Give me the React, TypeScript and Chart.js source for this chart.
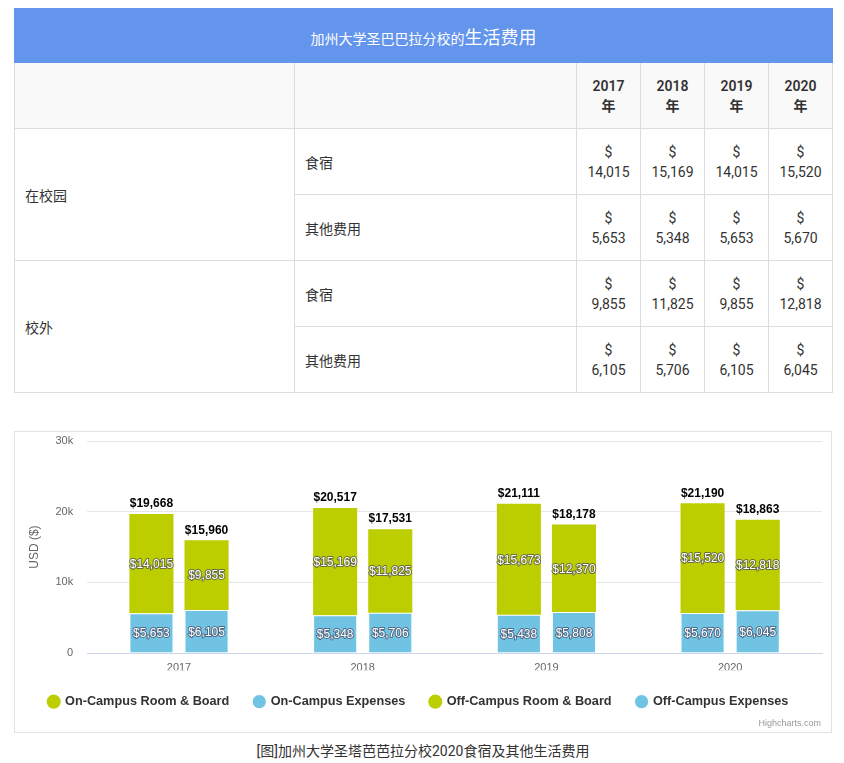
import React, { useEffect, useRef } from "react";
import { Chart, registerables } from "chart.js";

Chart.register(...registerables);

const years = ["2017", "2018", "2019", "2020"];
const tableYears = ["2017年", "2018年", "2019年", "2020年"];
const onCampusRoom = [14015, 15169, 15673, 15520];
const onCampusExp = [5653, 5348, 5438, 5670];
const offCampusRoom = [9855, 11825, 12370, 12818];
const offCampusExp = [6105, 5706, 5808, 6045];

const tableOnRoom = [14015, 15169, 14015, 15520];
const tableOnExp = [5653, 5348, 5653, 5670];
const tableOffRoom = [9855, 11825, 9855, 12818];
const tableOffExp = [6105, 5706, 6105, 6045];

const yTicks = [0, 10000, 20000, 30000];
const seriesNames = ["On-Campus Room & Board", "On-Campus Expenses", "Off-Campus Room & Board", "Off-Campus Expenses"];

const GREEN = "#bdce00";
const BLUE = "#70c3e3";

const fmt = (v: number) => "$" + v.toLocaleString("en-US");

const labelPlugin = {
  id: "stackLabels",
  afterDatasetsDraw(chart: any) {
    const ctx = chart.ctx;
    ctx.save();
    ctx.textAlign = "center";
    ctx.textBaseline = "middle";
    chart.data.datasets.forEach((ds: any, di: number) => {
      const meta = chart.getDatasetMeta(di);
      if (meta.hidden) return;
      meta.data.forEach((el: any, i: number) => {
        const v = ds.data[i];
        const y = (el.y + el.base) / 2;
        ctx.font = "12px 'Liberation Sans', Arial, sans-serif";
        ctx.lineJoin = "round";
        ctx.lineWidth = 2;
        ctx.strokeStyle = "rgba(70,70,95,0.7)";
        ctx.strokeText(fmt(v), el.x, y + 1);
        ctx.fillStyle = "#ffffff";
        ctx.fillText(fmt(v), el.x, y + 1);
        if (ds.isTop) {
          const total = ds.data[i] + chart.data.datasets[ds.below].data[i];
          ctx.font = "bold 12px 'Liberation Sans', Arial, sans-serif";
          ctx.fillStyle = "#000";
          ctx.textBaseline = "bottom";
          ctx.fillText(fmt(total), el.x, el.y - 4);
          ctx.textBaseline = "middle";
        }
      });
    });
    ctx.restore();
  },
};

function CostChart() {
  const ref = useRef<HTMLCanvasElement | null>(null);
  useEffect(() => {
    if (!ref.current) return;
    const legendRank = [1, 0, 3, 2];
    const chart = new Chart(ref.current, {
      type: "bar",
      data: {
        labels: years,
        datasets: [
          { label: seriesNames[1], data: onCampusExp, backgroundColor: BLUE, stack: "on", borderColor: "#fff", borderWidth: 1, borderSkipped: "bottom" } as any,
          { label: seriesNames[0], data: onCampusRoom, backgroundColor: GREEN, stack: "on", borderColor: "#fff", borderWidth: 0, isTop: true, below: 0 } as any,
          { label: seriesNames[3], data: offCampusExp, backgroundColor: BLUE, stack: "off", borderColor: "#fff", borderWidth: 1, borderSkipped: "bottom" } as any,
          { label: seriesNames[2], data: offCampusRoom, backgroundColor: GREEN, stack: "off", borderColor: "#fff", borderWidth: 0, isTop: true, below: 2 } as any,
        ],
      },
      options: {
        responsive: false,
        animation: false,
        layout: { padding: { top: 0, right: 9, left: 0, bottom: 14 } },
        datasets: { bar: { categoryPercentage: 0.6, barPercentage: 0.8 } },
        scales: {
          x: {
            stacked: true,
            grid: { display: false, drawTicks: false },
            border: { display: true, color: "#ccd6eb" },
            ticks: { color: "#666", font: { size: 11, family: "'Liberation Sans', Arial, sans-serif" }, padding: 8 },
            afterFit: (scale: any) => {
              scale.height -= 12;
            },
          },
          y: {
            stacked: true,
            min: 0,
            max: 30000,
            afterBuildTicks: (axis: any) => {
              axis.ticks = yTicks.map((v) => ({ value: v }));
            },
            afterFit: (scale: any) => {
              scale.paddingTop = 9;
              scale.paddingBottom = 7;
            },
            grid: { color: "#e6e6e6", drawTicks: false },
            border: { display: false },
            ticks: {
              color: "#666",
              font: { size: 11, family: "'Liberation Sans', Arial, sans-serif" },
              padding: 14,
              callback: (v: any) => (v === 0 ? "0" : v / 1000 + "k"),
            },
            title: { display: true, text: "USD ($)", color: "#666", font: { size: 12, family: "'Liberation Sans', Arial, sans-serif" }, padding: { top: 12, bottom: 0 } },
          },
        },
        plugins: {
          tooltip: { enabled: false },
          legend: {
            position: "bottom",
            labels: {
              usePointStyle: true,
              pointStyle: "circle",
              boxWidth: 10,
              boxHeight: 10,
              padding: 25,
              color: "#333",
              font: { size: 12.7, weight: "bold", family: "'Liberation Sans', Arial, sans-serif" },
              sort: (a: any, b: any) => legendRank[a.datasetIndex] - legendRank[b.datasetIndex],
            },
          },
        },
      } as any,
      plugins: [labelPlugin],
    });
    return () => chart.destroy();
  }, []);
  return <canvas ref={ref} width={816} height={300} style={{ display: "block" }} />;
}

const cellBorder = "1px solid #dddddd";
const tdBase: React.CSSProperties = { border: cellBorder, padding: "0 10px", fontSize: 14, color: "#333", verticalAlign: "middle" };
const numCell: React.CSSProperties = { ...tdBase, textAlign: "center", padding: 0, lineHeight: "20px" };

function NumCells({ values }: { values: number[] }) {
  return (
    <>
      {values.map((v, i) => (
        <td key={i} style={numCell}>
          $<br />
          {v.toLocaleString("en-US")}
        </td>
      ))}
    </>
  );
}

export default function App() {
  return (
    <div style={{ marginLeft: 6, width: 818, fontFamily: "Roboto, 'Noto Sans CJK SC', sans-serif" }}>
      <table style={{ borderCollapse: "collapse", width: 818, tableLayout: "fixed" }}>
        <colgroup>
          <col style={{ width: 280 }} />
          <col style={{ width: 282 }} />
          <col style={{ width: 64 }} />
          <col style={{ width: 64 }} />
          <col style={{ width: 64 }} />
          <col style={{ width: 64 }} />
        </colgroup>
        <tbody>
          <tr style={{ height: 54 }}>
            <td colSpan={6} style={{ background: "#6495ed", color: "#fff", textAlign: "center", border: "1px solid #6495ed", fontSize: 14 }}>
              加州大学圣巴巴拉分校的<span style={{ fontSize: 18 }}>生活费用</span>
            </td>
          </tr>
          <tr style={{ height: 66, background: "#f9f9f9" }}>
            <td style={tdBase}></td>
            <td style={tdBase}></td>
            {tableYears.map((y) => (
              <td key={y} style={{ ...numCell, fontWeight: 600 }}>
                {y.slice(0, 4)}
                <br />
                {y.slice(4)}
              </td>
            ))}
          </tr>
          <tr style={{ height: 66 }}>
            <td rowSpan={2} style={tdBase}>在校园</td>
            <td style={tdBase}>食宿</td>
            <NumCells values={tableOnRoom} />
          </tr>
          <tr style={{ height: 66 }}>
            <td style={tdBase}>其他费用</td>
            <NumCells values={tableOnExp} />
          </tr>
          <tr style={{ height: 66 }}>
            <td rowSpan={2} style={tdBase}>校外</td>
            <td style={tdBase}>食宿</td>
            <NumCells values={tableOffRoom} />
          </tr>
          <tr style={{ height: 66 }}>
            <td style={tdBase}>其他费用</td>
            <NumCells values={tableOffExp} />
          </tr>
        </tbody>
      </table>
      <div style={{ marginTop: 38, border: "1px solid #e3e3e3", width: 816, height: 300, position: "relative" }}>
        <CostChart />
        <div style={{ position: "absolute", right: 10, bottom: 4, fontSize: 9, color: "#999", fontFamily: "'Liberation Sans', Arial, sans-serif" }}>
          Highcharts.com
        </div>
      </div>
      <div style={{ textAlign: "center", fontSize: 14, color: "#333", marginTop: 8, lineHeight: "20px" }}>
        [图]加州大学圣塔芭芭拉分校2020食宿及其他生活费用
      </div>
    </div>
  );
}
